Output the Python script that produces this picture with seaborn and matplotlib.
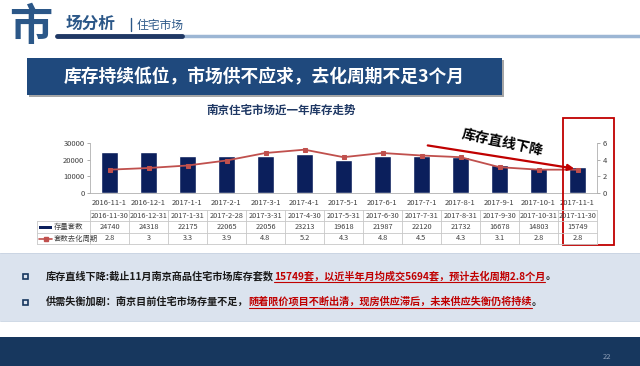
import numpy as np
import pandas as pd
import matplotlib
matplotlib.use('Agg')
import matplotlib.pyplot as plt
import seaborn as sns
from matplotlib.patches import Rectangle, FancyArrowPatch
from matplotlib.lines import Line2D

# ---- data ----
dates = ['2016-11-1', '2016-12-1', '2017-1-1', '2017-2-1', '2017-3-1', '2017-4-1', '2017-5-1',
         '2017-6-1', '2017-7-1', '2017-8-1', '2017-9-1', '2017-10-1', '2017-11-1']
end_dates = ['2016-11-30', '2016-12-31', '2017-1-31', '2017-2-28', '2017-3-31', '2017-4-30', '2017-5-31',
             '2017-6-30', '2017-7-31', '2017-8-31', '2017-9-30', '2017-10-31', '2017-11-30']
stock = [24740, 24318, 22175, 22065, 22056, 23213, 19618, 21987, 22120, 21732, 16678, 14803, 15749]
cycle = [2.8, 3, 3.3, 3.9, 4.8, 5.2, 4.3, 4.8, 4.5, 4.3, 3.1, 2.8, 2.8]
cycle_labels = ['2.8', '3', '3.3', '3.9', '4.8', '5.2', '4.3', '4.8', '4.5', '4.3', '3.1', '2.8', '2.8']
left_ticks = [0, 10000, 20000, 30000]
right_ticks = [0, 2, 4, 6]

NAVY = '#0b1f5c'
RED_LINE = '#c0504d'
RED = '#c00000'
STEEL = '#2b5788'
BANNER = '#1f497d'
FOOT = '#17375e'

sns.set_theme(style='white')
plt.rcParams['font.family'] = ['Noto Sans CJK SC', 'DejaVu Sans']

W, H = 640, 366
fig = plt.figure(figsize=(6.4, 3.66), dpi=100)


def fx(x):
    return x / W


def fy(y):
    return 1 - y / H


def rect(x0, y0, x1, y1, **kw):
    fig.add_artist(Rectangle((fx(x0), fy(y1)), (x1 - x0) / W, (y1 - y0) / H,
                             transform=fig.transFigure, **kw))


def hline(x0, x1, y, **kw):
    fig.add_artist(Line2D([fx(x0), fx(x1)], [fy(y), fy(y)], transform=fig.transFigure, **kw))


def vline(x, y0, y1, **kw):
    fig.add_artist(Line2D([fx(x), fx(x)], [fy(y0), fy(y1)], transform=fig.transFigure, **kw))


# ---- header ----
fig.text(fx(9), fy(27), '市', fontsize=31, fontweight='bold', color=STEEL, va='center', ha='left')
fig.text(fx(66), fy(24), '场分析', fontsize=12, fontweight='bold', color=STEEL, va='center', ha='left')
vline(131, 18, 31, color=STEEL, lw=1)
fig.text(fx(137), fy(25), '住宅市场', fontsize=8.5, color=STEEL, va='center', ha='left')
hline(180, 640, 35.5, color='#9cb6d4', lw=2.5)
hline(57, 182, 35.5, color='#1f3864', lw=3.5)

# banner
rect(29, 60, 504, 97, color='#a6a6a6', lw=0)
rect(27, 58, 502, 95, color=BANNER, lw=0)
fig.text(fx(264), fy(77), '库存持续低位，市场供不应求，去化周期不足3个月', fontsize=12.8,
         fontweight='bold', color='white', va='center', ha='center')

fig.text(fx(281), fy(110), '南京住宅市场近一年库存走势', fontsize=8.3, fontweight='bold',
         color='#1f3864', va='center', ha='center')

# ---- chart ----
df = pd.DataFrame({'date': dates, 'stock': stock, 'cycle': cycle, 'pos': np.arange(len(dates))})

ax = fig.add_axes([fx(90), fy(193), 507 / W, 50 / H])
sns.barplot(data=df, x='date', y='stock', ax=ax, color=NAVY, width=0.42, saturation=1)
ax.set_ylim(0, 30000)
ax.set_xlim(-0.5, len(dates) - 0.5)
ax.set_yticks(left_ticks)
ax.set_yticklabels([str(t) for t in left_ticks], fontsize=5.5, color='#404040')
ax.set_xticks(range(len(dates)))
ax.set_xticklabels(dates, fontsize=5.5, color='#404040')
ax.set_xlabel('')
ax.set_ylabel('')
ax.tick_params(axis='x', length=0, pad=4)
ax.tick_params(axis='y', length=2, width=0.6, color='#a0a0a0', pad=2, left=True)
for s in ['top', 'right']:
    ax.spines[s].set_visible(False)
for s in ['left', 'bottom']:
    ax.spines[s].set_color('#b0b0b0')
    ax.spines[s].set_linewidth(0.6)
ax.patch.set_alpha(0)

ax2 = ax.twinx()
sns.lineplot(data=df, x='pos', y='cycle', ax=ax2, color=RED_LINE, lw=1.3, marker='s',
             markersize=3.5, markeredgecolor=RED_LINE)
ax2.set_ylim(0, 6)
ax2.set_xlim(-0.5, len(dates) - 0.5)
ax2.set_yticks(right_ticks)
ax2.set_yticklabels([str(t) for t in right_ticks], fontsize=5.5, color='#404040')
ax2.set_ylabel('')
ax2.tick_params(axis='y', length=2, width=0.6, color='#a0a0a0', pad=2, right=True)
for s in ['top', 'left', 'bottom']:
    ax2.spines[s].set_visible(False)
ax2.spines['right'].set_color('#b0b0b0')
ax2.spines['right'].set_linewidth(0.6)

# ---- data table ----
col_x = [90 + 39 * i for i in range(len(dates) + 1)]
rows_y = [210, 221, 233, 244]
grid = dict(color='#c8c8c8', lw=0.6)
hline(90, col_x[-1], rows_y[0], **grid)
for yy in rows_y[1:]:
    hline(37, col_x[-1], yy, **grid)
vline(37, rows_y[1], rows_y[3], **grid)
for xx in col_x:
    vline(xx, rows_y[0], rows_y[3], **grid)
for i in range(len(dates)):
    cx = (col_x[i] + col_x[i + 1]) / 2
    fig.text(fx(cx), fy(215.5), end_dates[i], fontsize=5.3, color='#404040', ha='center', va='center')
    fig.text(fx(cx), fy(227), str(stock[i]), fontsize=5.3, color='#404040', ha='center', va='center')
    fig.text(fx(cx), fy(238.5), cycle_labels[i], fontsize=5.3, color='#404040', ha='center', va='center')
rect(39, 225.5, 52, 229, color=NAVY, lw=0)
fig.text(fx(54), fy(227), '存量套数', fontsize=5.3, color='#404040', ha='left', va='center')
fig.add_artist(Line2D([fx(39), fx(52)], [fy(238.5), fy(238.5)], transform=fig.transFigure,
                      color=RED_LINE, lw=1.2))
fig.add_artist(Line2D([fx(45.5)], [fy(238.5)], transform=fig.transFigure, color=RED_LINE,
                      marker='s', markersize=3, lw=0))
fig.text(fx(54), fy(238.5), '套数去化周期', fontsize=5.3, color='#404040', ha='left', va='center')

# ---- highlight box and arrow ----
rect(563, 118, 614, 245, fill=False, edgecolor=RED, lw=1.3)
fig.add_artist(FancyArrowPatch((fx(425), fy(145)), (fx(577), fy(169)),
                               transform=fig.transFigure, arrowstyle='-|>',
                               mutation_scale=9, color=RED, lw=1.6))
fig.text(fx(502), fy(143), '库存直线下降', fontsize=10, fontweight='bold', color='black',
         rotation=-12, ha='center', va='center', rotation_mode='anchor')

# ---- bottom notes ----
rect(0, 253, 640, 321, color='#dbe3ee', lw=0)
hline(0, 640, 253, color='#c8d3e2', lw=0.6)
hline(0, 640, 321, color='#c8d3e2', lw=0.6)
rect(0, 337, 640, 366, color=FOOT, lw=0)
fig.text(fx(607), fy(357), '22', fontsize=5.5, color='#8f9fb8', ha='center', va='center')

renderer = fig.canvas.get_renderer()


def note_line(y, segments):
    rect(22.5, y - 2.5, 27.5, y + 2.5, fill=False, edgecolor=FOOT, lw=1.2)
    x = 46
    for txt, color, under in segments:
        t = fig.text(fx(x), fy(y), txt, fontsize=7.3, fontweight='bold', color=color,
                     ha='left', va='center')
        bb = t.get_window_extent(renderer)
        if under:
            hline(bb.x0, bb.x1, y + 6, color=color, lw=0.8)
        x = bb.x1


note_line(276, [('库存直线下降:截止11月南京商品住宅市场库存套数', '#1a1a1a', False),
                ('15749套，以近半年月均成交5694套，预计去化周期2.8个月', RED, True),
                ('。', '#1a1a1a', False)])
note_line(302, [('供需失衡加剧：南京目前住宅市场存量不足，', '#1a1a1a', False),
                ('随着限价项目不断出清，现房供应滞后，未来供应失衡仍将持续', RED, True),
                ('。', '#1a1a1a', False)])

fig.savefig('out.png', dpi=100)
